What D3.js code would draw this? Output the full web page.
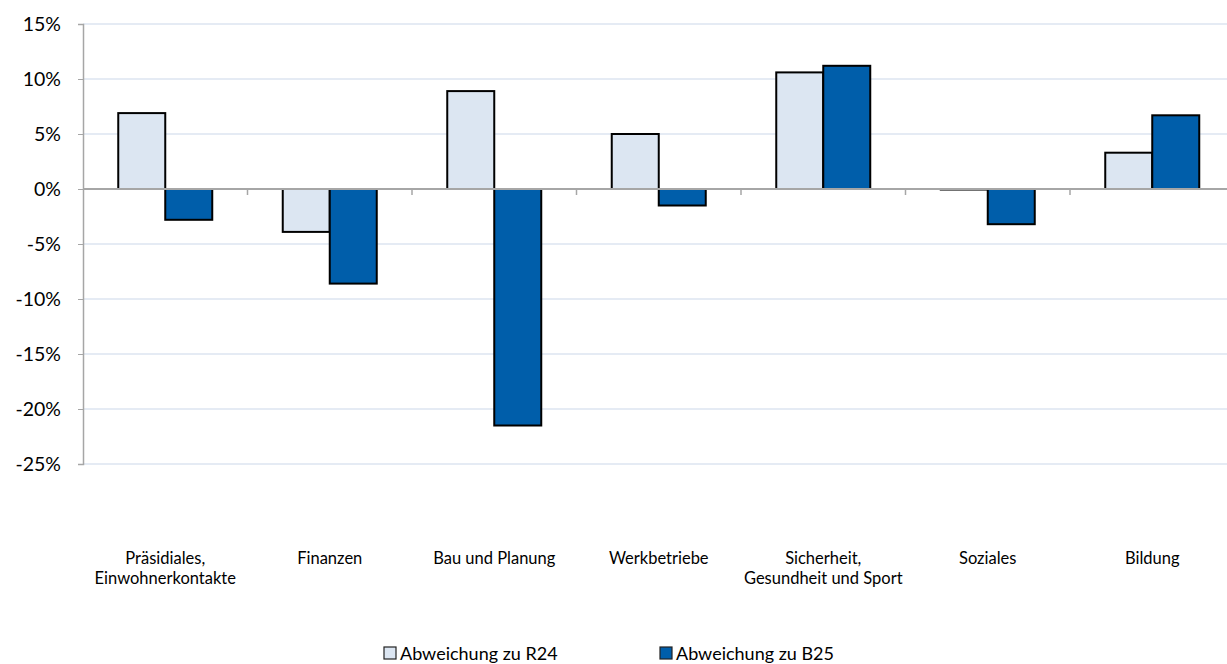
<!DOCTYPE html>
<html>
<head>
<meta charset="utf-8">
<script src="https://cdn.jsdelivr.net/npm/d3@7"></script>
<style>
  body { margin: 0; background: #fff; }
  text { font-family: Lato, "Open Sans", sans-serif; fill: #000; }
</style>
</head>
<body>
<div id="chart"></div>
<script>
// data
const categories = [
    ["Präsidiales,", "Einwohnerkontakte"],
    ["Finanzen"],
    ["Bau und Planung"],
    ["Werkbetriebe"],
    ["Sicherheit,", "Gesundheit und Sport"],
    ["Soziales"],
    ["Bildung"]
];
const seriesNames = ["Abweichung zu R24", "Abweichung zu B25"];
const r24 = [6.9, -3.9, 8.9, 5.0, 10.6, -0.05, 3.3];
const b25 = [-2.8, -8.6, -21.5, -1.5, 11.2, -3.2, 6.7];
const yTicks = [15, 10, 5, 0, -5, -10, -15, -20, -25];
const colors = ["#dce6f2", "#005eaa"];

const width = 1227, height = 664;
const plotLeft = 83, plotTop = 24, plotBottom = 464;
const band = 164.5;

const svg = d3.select("#chart").append("svg")
    .attr("width", width)
    .attr("height", height);

const x = d3.scaleBand()
    .domain(d3.range(categories.length))
    .range([plotLeft, plotLeft + band * categories.length])
    .paddingInner(0).paddingOuter(0);

const x1 = d3.scaleBand()
    .domain([0, 1])
    .range([0, band])
    .paddingOuter(0.75)
    .paddingInner(0);

const y = d3.scaleLinear()
    .domain([-25, 15])
    .range([plotBottom, plotTop]);

// gridlines
svg.append("g")
    .selectAll("line")
    .data(yTicks.filter(d => d !== 0))
    .enter().append("line")
    .attr("x1", plotLeft).attr("x2", width)
    .attr("y1", d => y(d)).attr("y2", d => y(d))
    .attr("stroke", "#dde4f1")
    .attr("stroke-width", 1.5);

// y axis
const yAxis = svg.append("g")
    .attr("transform", `translate(${plotLeft},0)`)
    .call(d3.axisLeft(y).tickValues(yTicks).tickSize(5).tickPadding(17).tickFormat(d => d + "%"));
yAxis.select(".domain").attr("stroke", "#a6a6a6").attr("stroke-width", 1.5);
yAxis.selectAll(".tick line").attr("stroke", "#a6a6a6");
yAxis.selectAll("text").style("font-size", "19.5px").attr("fill", "#000");

// bars
const data = [r24, b25];
const groups = svg.append("g")
    .selectAll("g")
    .data(categories.map((c, i) => i))
    .enter().append("g")
    .attr("transform", i => `translate(${x(i)},0)`);

groups.selectAll("rect")
    .data(i => data.map((s, k) => ({k: k, v: s[i]})))
    .enter().append("rect")
    .attr("x", d => x1(d.k))
    .attr("width", x1.bandwidth())
    .attr("y", d => y(Math.max(0, d.v)))
    .attr("height", d => Math.abs(y(d.v) - y(0)))
    .attr("fill", d => colors[d.k])
    .attr("stroke", "#000")
    .attr("stroke-width", 2);

// zero line with category ticks
svg.append("line")
    .attr("x1", plotLeft).attr("x2", width)
    .attr("y1", y(0)).attr("y2", y(0))
    .attr("stroke", "#a6a6a6")
    .attr("stroke-width", 2);

svg.append("g")
    .selectAll("line")
    .data(d3.range(1, categories.length))
    .enter().append("line")
    .attr("x1", i => x(i)).attr("x2", i => x(i))
    .attr("y1", y(0)).attr("y2", y(0) + 6)
    .attr("stroke", "#a6a6a6")
    .attr("stroke-width", 1.5);

// category labels
const labels = svg.append("g")
    .selectAll("text")
    .data(categories)
    .enter().append("text")
    .attr("text-anchor", "middle")
    .style("font-size", "16.5px");

labels.selectAll("tspan")
    .data((d, i) => d.map(line => ({line: line, i: i})))
    .enter().append("tspan")
    .attr("x", d => x(d.i) + band / 2)
    .attr("y", (d, j) => 564 + j * 20)
    .text(d => d.line);

// legend
const legendX = [384, 660];
const legend = svg.append("g")
    .selectAll("g")
    .data(seriesNames)
    .enter().append("g")
    .attr("transform", (d, i) => `translate(${legendX[i]},647)`);

legend.append("rect")
    .attr("width", 12).attr("height", 12)
    .attr("fill", (d, i) => colors[i])
    .attr("stroke", "#222")
    .attr("stroke-width", 1.2);

legend.append("text")
    .attr("x", 16)
    .attr("y", 13)
    .style("font-size", "18px")
    .text(d => d);
</script>
</body>
</html>
